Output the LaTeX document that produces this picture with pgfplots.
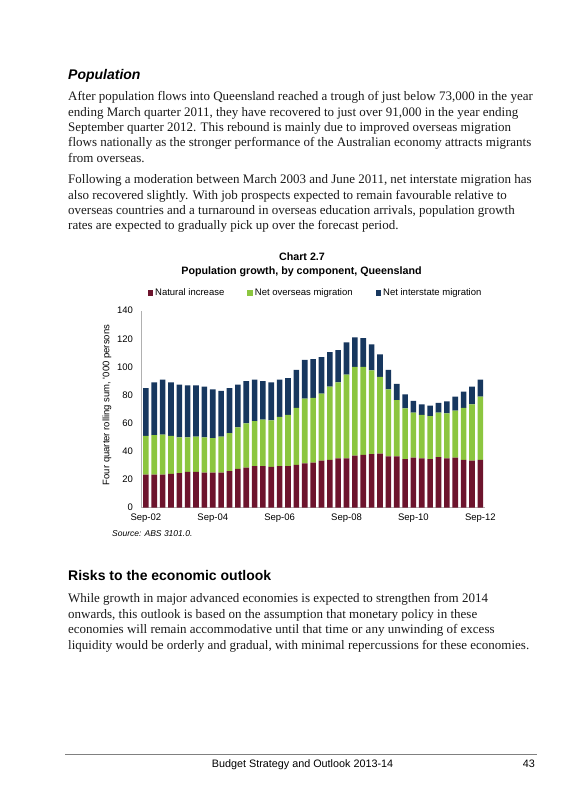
\documentclass[border=0pt]{standalone}
\usepackage{fontspec}
\setmainfont{Liberation Serif}
\newfontfamily\arial{Liberation Sans}
\usepackage{pgfplots}
\usepackage{pgfplotstable}
\pgfplotsset{compat=1.18}
\definecolor{natred}{HTML}{6D142D}
\definecolor{nomgreen}{HTML}{8CC63F}
\definecolor{nimblue}{HTML}{17375E}
\definecolor{axgray}{HTML}{B0B0B0}
\definecolor{bodytext}{HTML}{1A1A1A}
\pgfplotstableread{
x nat nom nim
1 23.5 27.5 34
2 23.5 28 37.5
3 23.5 28.5 39
4 24 27 38
5 24.5 25.5 37.5
6 25.5 24.5 37
7 25.5 25 36.5
8 25 25 36
9 25 24.5 34.5
10 25 25.5 32.5
11 26 27 32
12 27.5 29.5 30.5
13 28.5 31.5 30
14 29.5 32 29.5
15 29.5 33 27.5
16 29 33 27
17 29.5 35 26.5
18 29.5 36.5 26
19 30.5 40.5 27
20 31.5 46 27.5
21 32 46 27.5
22 33.5 47.5 26
23 34 52 24.5
24 35 54 23
25 35 59.5 23
26 37 63 21
27 37.5 62.5 20.5
28 38 59.5 18.5
29 38.5 54.5 16
30 36.5 47.5 14
31 36.5 40 11.5
32 34.5 36 10
33 35.5 32 8.5
34 35 31 7.5
35 34.5 30.5 7.5
36 36 31.5 7
37 35 32 8.5
38 35.5 33.5 10
39 34 37 11.5
40 33.5 40 12.5
41 34 45 12
}\datatable
\begin{document}
\begin{tikzpicture}
\useasboundingbox[fill=white] (0pt,0pt) rectangle (585pt,810pt);
% headings and body text
\node[anchor=base west,inner sep=0pt,font=\arial\bfseries\itshape\fontsize{14}{16}\selectfont] at (68pt,730.5pt) {Population};
\begin{scope}[every node/.style={anchor=base west,inner sep=0pt,text=bodytext,font=\fontsize{13}{15}\selectfont}]
\node at (68pt,709pt) {After population flows into Queensland reached a trough of just below 73,000 in the year};
\node at (68pt,693.7pt) {ending March quarter 2011, they have recovered to just over 91,000 in the year ending};
\node at (68pt,678.4pt) {September quarter 2012. This rebound is mainly due to improved overseas migration};
\node at (68pt,663.1pt) {flows nationally as the stronger performance of the Australian economy attracts migrants};
\node at (68pt,647.8pt) {from overseas.};
\node at (68pt,626pt) {Following a moderation between March 2003 and June 2011, net interstate migration has};
\node at (68pt,610.7pt) {also recovered slightly. With job prospects expected to remain favourable relative to};
\node at (68pt,595.4pt) {overseas countries and a turnaround in overseas education arrivals, population growth};
\node at (68pt,580.1pt) {rates are expected to gradually pick up over the forecast period.};
\node at (68pt,207pt) {While growth in major advanced economies is expected to strengthen from 2014};
\node at (68pt,191.5pt) {onwards, this outlook is based on the assumption that monetary policy in these};
\node at (68pt,176pt) {economies will remain accommodative until that time or any unwinding of excess};
\node at (68pt,160.5pt) {liquidity would be orderly and gradual, with minimal repercussions for these economies.};
\end{scope}
\node[anchor=base west,inner sep=0pt,font=\arial\bfseries\fontsize{14}{16}\selectfont] at (68pt,229pt) {Risks to the economic outlook};
% chart titles
\node[anchor=base,inner sep=0pt,font=\arial\bfseries\fontsize{10.7}{12}\selectfont] at (302pt,549.5pt) {Chart 2.7};
\node[anchor=base,inner sep=0pt,font=\arial\bfseries\fontsize{10.7}{12}\selectfont] at (301.5pt,535.5pt) {Population growth, by component, Queensland};
\node[rotate=90,inner sep=0pt,font=\arial\fontsize{9.5}{11}\selectfont] at (107pt,405pt) {Four quarter rolling sum, '000 persons};
\node[anchor=base west,inner sep=0pt,font=\arial\itshape\fontsize{8.5}{10}\selectfont] at (112pt,273.5pt) {Source: ABS 3101.0.};
% footer
\draw[line width=0.8pt,gray] (65pt,56pt) -- (537pt,56pt);
\node[anchor=base,inner sep=0pt,font=\arial\fontsize{10.8}{12}\selectfont] at (302.5pt,42pt) {Budget Strategy and Outlook 2013-14};
\node[anchor=base east,inner sep=0pt,font=\arial\fontsize{10.8}{12}\selectfont] at (535pt,42pt) {43};
\begin{axis}[
  at={(141.7pt,302.3pt)}, anchor=south west,
  scale only axis, width=342.8pt, height=197pt,
  ybar stacked, bar width=5.6pt,
  xmin=0.5, xmax=41.5, ymin=0, ymax=140,
  enlargelimits=false,
  axis x line*=bottom, axis y line*=left,
  axis line style={axgray, line width=0.8pt, -},
  major tick length=0pt,
  ytick={0,20,...,140},
  xtick={1,9,17,25,33,41},
  xticklabels={Sep-02,Sep-04,Sep-06,Sep-08,Sep-10,Sep-12},
  /pgf/number format/assume math mode=true,
  tick label style={font=\arial\fontsize{9.5}{11}\selectfont},
  yticklabel style={inner sep=0pt, xshift=-8.5pt},
  xticklabel style={inner sep=0pt, yshift=-6pt},
  legend columns=3,
  legend style={at={(0.507,1.0898)}, anchor=center, draw=none, fill=none,
    font=\arial\fontsize{9.5}{11}\selectfont,
    /tikz/every even column/.append style={column sep=21pt}},
  legend cell align=left,
  legend image code/.code={\fill[#1] (0pt,-2.8pt) rectangle (5.6pt,2.8pt);},
]
\addplot[fill=natred, draw=none] table[x=x,y=nat]{\datatable};
\addplot[fill=nomgreen, draw=none] table[x=x,y=nom]{\datatable};
\addplot[fill=nimblue, draw=none] table[x=x,y=nim]{\datatable};
\legend{Natural increase,Net overseas migration,Net interstate migration}
\end{axis}
\end{tikzpicture}
\end{document}
